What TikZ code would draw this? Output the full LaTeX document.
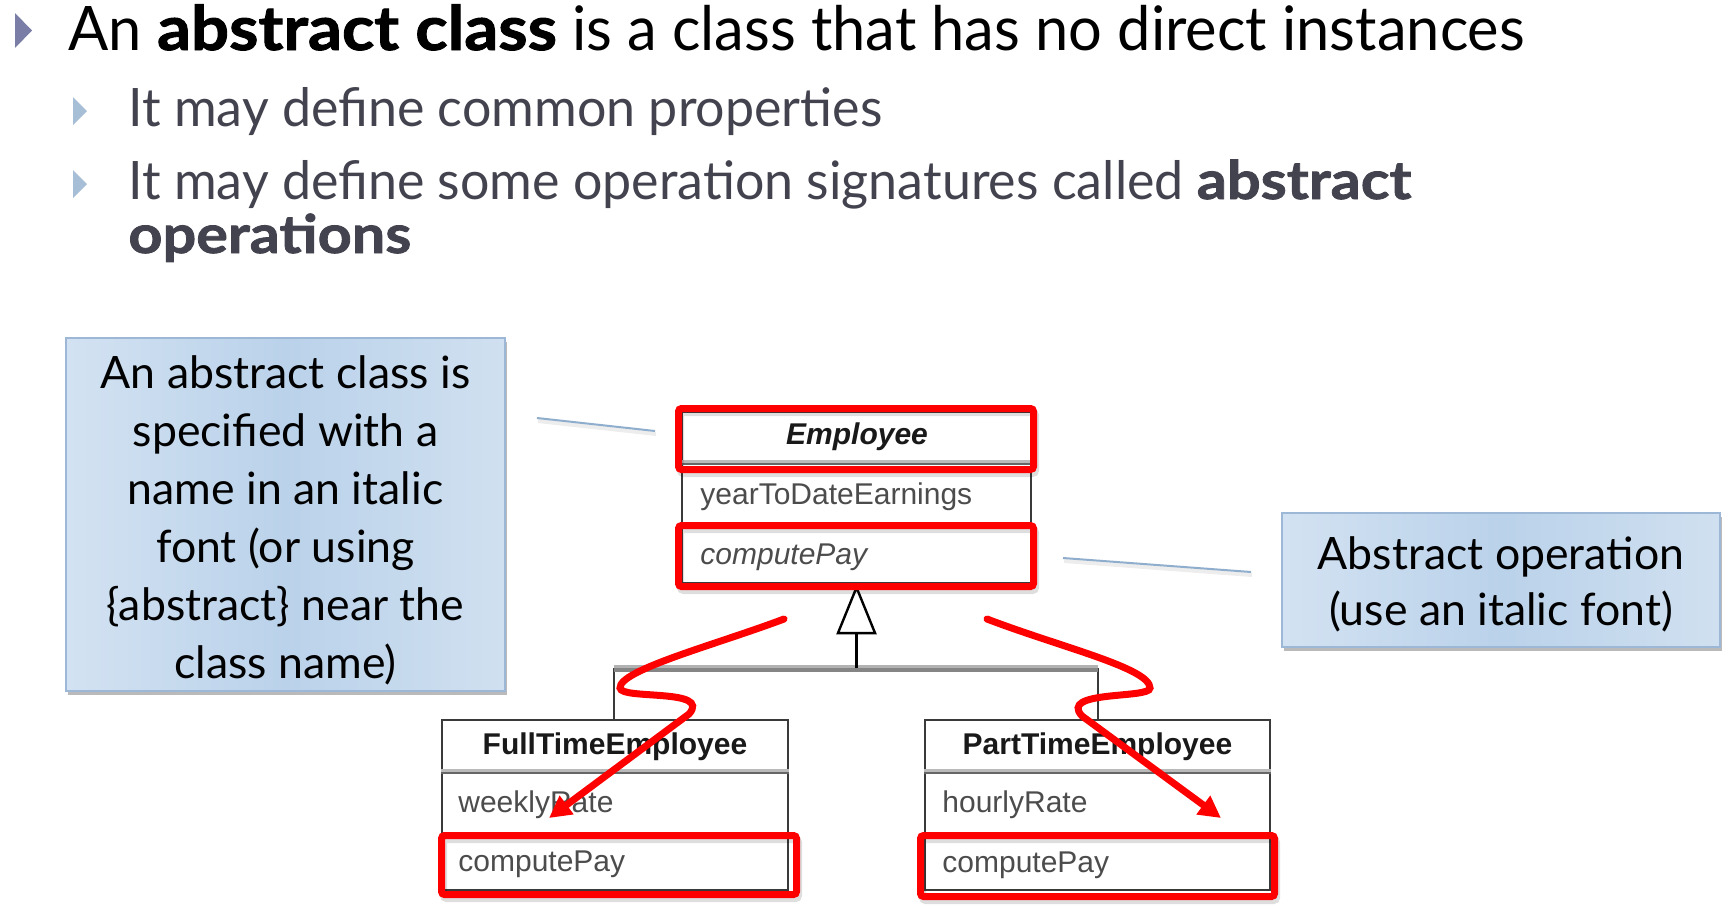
\documentclass[tikz,border=0pt]{standalone}
\usepackage{fontspec}
\setmainfont{Lato}
\newfontfamily\headfont{Lato}[FakeStretch=0.970, BoldFeatures={FakeBold=1.5, FakeStretch=1.09}]
\newfontfamily\subfont{Lato}[FakeStretch=0.98, BoldFeatures={FakeBold=1.5, FakeStretch=1.12}]
\newfontfamily\umlfont{Liberation Sans}
\usetikzlibrary{arrows.meta,shadows}

\definecolor{bulletdark}{HTML}{7A7EA6}
\definecolor{bulletlight}{HTML}{A6BED6}
\definecolor{subtext}{HTML}{43434F}
\definecolor{calloutL}{HTML}{D3E2F2}
\definecolor{calloutM}{HTML}{BAD2EA}
\definecolor{calloutR}{HTML}{D0E0F0}
\definecolor{calloutEdge}{HTML}{9DB8D6}
\definecolor{leader}{HTML}{8FAECD}
\definecolor{hlred}{HTML}{FF0000}
\definecolor{umlline}{HTML}{3A3A3A}
\definecolor{umltext}{HTML}{4C4C4C}

\tikzset{
  callout/.style={draw=calloutEdge, line width=0.6pt,
    left color=calloutL, right color=calloutR, middle color=calloutM,
    drop shadow={shadow xshift=1pt, shadow yshift=-2pt, opacity=.45, fill=black!60},
    inner sep=0pt},
  callouttext/.style={align=center, inner sep=0pt, font=\fontsize{22.3}{29}\selectfont},
  headtext/.style={anchor=base west, inner sep=0pt, font=\headfont\fontsize{30.7}{36}\selectfont},
  subtextnode/.style={anchor=base west, inner sep=0pt, text=subtext, font=\subfont\fontsize{26.5}{32}\selectfont},
  leaderline/.style={draw=leader, line width=1pt},
  leadershadow/.style={draw=black, opacity=.07, line width=2pt},
  classbox/.style={draw=umlline, fill=white, line width=1.25pt, inner sep=0pt},
  dividerlight/.style={draw=black!27, line width=1.6pt},
  dividerdark/.style={draw=black!60, line width=0.9pt},
  umlname/.style={inner sep=0pt, text=black!90, font=\umlfont\fontsize{15}{18}\selectfont\bfseries},
  umlattr/.style={inner sep=0pt, anchor=west, text=umltext, font=\umlfont\fontsize{15}{18}\selectfont},
  genline/.style={draw=umlline, line width=1.25pt},
  genbarlight/.style={draw=black!30, line width=1.6pt},
  genbardark/.style={draw=black!48, line width=1.8pt},
  gentip/.style={-{Triangle[open, fill=white, length=25pt, width=20pt]}, draw=black, line width=1.2pt},
  hlbox/.style={draw=hlred, line width=3.5pt, rounded corners=1.5pt},
  hlshadow/.style={draw=black, opacity=.13, line width=3.5pt, rounded corners=1.5pt},
  squiggle/.style={draw=hlred, line width=3.5pt, line cap=round,
    -{Triangle[length=11pt, width=11pt]}},
}

\begin{document}
\begin{tikzpicture}[x=0.5pt, y=-0.5pt]
  % page area
  \path[fill=white] (0,0) rectangle (1728,905);
  \useasboundingbox (0,0) rectangle (1728,905);

  % ---- bullet list ----
  \fill[bulletdark] (15,13) -- (32,30.5) -- (15,48) -- cycle;
  \node[headtext] (title) at (68,50)
    {An \textbf{abstract class} is a class that has no direct instances};

  \fill[bulletlight] (73,97) -- (87,111) -- (73,125) -- cycle;
  \node[subtextnode] (sub1) at (128,126) {It may define common properties};

  \fill[bulletlight] (73,170) -- (87,184) -- (73,198) -- cycle;
  \node[subtextnode] (sub2) at (128,199)
    {It may define some operation signatures called \textbf{abstract}};
  \node[subtextnode] (sub3) at (128,253) {\textbf{operations}};

  % ---- callouts ----
  \node[callout, minimum width=219.5pt, minimum height=176.5pt] (noteclass) at (285.5,514.5) {};
  \node[callouttext] (noteclasstext) at ([yshift=-2.8pt]noteclass.center)
    {An abstract class is\\ specified with a\\ name in an italic\\ font (or using\\ \{abstract\} near the\\ class name)};
  \node[callout, minimum width=219pt, minimum height=67pt] (noteop) at (1501,580) {};
  \node[callouttext, font=\fontsize{22.3}{28}\selectfont] (noteoptext) at ([yshift=-2.4pt]noteop.center)
    {Abstract operation\\ (use an italic font)};

  \coordinate (leadA1) at (537,418);
  \coordinate (leadA2) at (655,431);
  \coordinate (leadB1) at (1063,558);
  \coordinate (leadB2) at (1251,572);
  \draw[leadershadow] ([xshift=0.5pt,yshift=-1.5pt]leadA1) -- ([xshift=0.5pt,yshift=-1.5pt]leadA2);
  \draw[leadershadow] ([xshift=0.5pt,yshift=-1.5pt]leadB1) -- ([xshift=0.5pt,yshift=-1.5pt]leadB2);
  \draw[leaderline] (leadA1) -- (leadA2);
  \draw[leaderline] (leadB1) -- (leadB2);

  % ---- class boxes ----
  \node[classbox, minimum width=174.5pt, minimum height=85.5pt] (emp) at (856.5,497.5) {};
  \node[classbox, minimum width=173pt, minimum height=85pt] (ft) at (615,805) {};
  \node[classbox, minimum width=172.5pt, minimum height=85pt] (pt) at (1097.5,805) {};

  % compartment dividers
  \foreach \b/\ya/\yb in {emp/463/524, ft/772/836, pt/772/836}{
    \draw[dividerlight] ([yshift=0.7pt]\b.west |- 0,\ya) -- ([yshift=0.7pt]\b.east |- 0,\ya);
    \draw[dividerdark] ([yshift=-0.6pt]\b.west |- 0,\ya) -- ([yshift=-0.6pt]\b.east |- 0,\ya);
    \draw[dividerdark] (\b.west |- 0,\yb) -- (\b.east |- 0,\yb);
  }

  % compartment texts
  \node[umlname, font=\umlfont\fontsize{15}{18}\selectfont\bfseries\itshape] (empname) at (857,437) {Employee};
  \node[umlattr] (empattr) at (700,497) {yearToDateEarnings};
  \node[umlattr, font=\umlfont\fontsize{15}{18}\selectfont\itshape] (empop) at (700,557) {computePay};

  \node[umlname] (ftname) at (615,747) {FullTimeEmployee};
  \node[umlattr] (ftattr) at (458,805) {weeklyRate};
  \node[umlattr] (ftop) at (458,864) {computePay};

  \node[umlname] (ptname) at (1097.5,747) {PartTimeEmployee};
  \node[umlattr] (ptattr) at (942,805) {hourlyRate};
  \node[umlattr] (ptop) at (942,865) {computePay};

  % ---- generalization ----
  \coordinate (hub) at (856.5,668);
  \coordinate (joinL) at (614,668);
  \coordinate (joinR) at (1098,668);
  \draw[genline] (joinL) -- (joinL |- ft.north);
  \draw[genline] (joinR) -- (joinR |- pt.north);
  \draw[genbarlight] ([yshift=0.9pt]joinL) -- ([yshift=0.9pt]joinR);
  \draw[genbardark] ([yshift=-0.9pt]joinL) -- ([yshift=-0.9pt]joinR);
  \draw[gentip] (hub) -- (emp.south);

  % ---- red highlights ----
  \foreach \xa/\ya/\xb/\yb in {678.5/408.5/1033.5/469.5, 678.5/525.5/1033.5/586.5,
                               441.5/835.5/796.5/894.5, 920.5/835.5/1274.5/896.5}{
    \draw[hlshadow] (\xa+2,\ya+4) rectangle (\xb+2,\yb+4);
    \draw[hlbox] (\xa,\ya) rectangle (\xb,\yb);
  }

  % inherited operation arrows
  \coordinate (sqLstart) at (784,619);
  \coordinate (sqLtip) at (549,818);
  \coordinate (sqRstart) at (987,619);
  \coordinate (sqRtip) at (1221,818);
  \draw[squiggle] (sqLstart) .. controls (715,645) and (619,670) .. (620,688)
    .. controls (621,700) and (712,688) .. (689,714) -- (sqLtip);
  \draw[squiggle] (sqRstart) .. controls (1060,647) and (1150,668) .. (1150,688)
    .. controls (1150,699) and (1058,690) .. (1082,716) -- (sqRtip);
\end{tikzpicture}
\end{document}
